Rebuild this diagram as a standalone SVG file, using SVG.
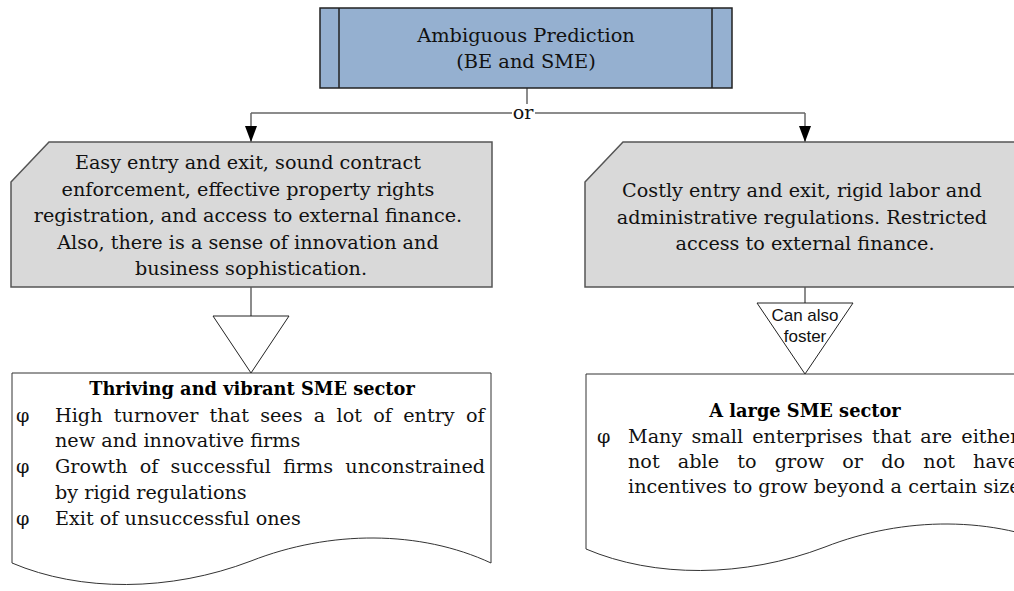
<svg xmlns="http://www.w3.org/2000/svg" width="1014" height="591" viewBox="0 0 1014 591">
<defs>
<style>
.serif{font-family:"DejaVu Serif","Liberation Serif",serif;fill:#111}
.t{font-size:19.2px}
.t19{font-size:19.4px}
.b{font-weight:bold;fill:#000;font-size:17.8px}
.sans{font-family:"Liberation Sans",Arial,sans-serif;font-size:17px;fill:#111}
.grey{fill:#d9d9d9;stroke:#555;stroke-width:1.5}
.doc{fill:#fff;stroke:#333;stroke-width:1}
.tri{fill:#fff;stroke:#222;stroke-width:1}
.conn{fill:none;stroke:#666;stroke-width:1.5}
</style>
<marker id="arr" markerUnits="userSpaceOnUse" markerWidth="16" markerHeight="12" viewBox="0 0 16 12" refX="16" refY="6" orient="auto">
<path d="M0,0 L16,6 L0,12 Z" fill="#000"/>
</marker>
</defs>
<rect width="1014" height="591" fill="#fff"/>

<g id="connectors">
<path class="conn" d="M527,88 V113"/>
<path class="conn" d="M251,113 H805"/>
<path class="conn" d="M251,113 V142" marker-end="url(#arr)"/>
<path class="conn" d="M805,113 V142" marker-end="url(#arr)"/>
<path class="conn" d="M251,287 V316"/>
<path class="conn" d="M805,287 V303"/>
<rect x="512" y="104" width="23" height="17" fill="#fff"/>
<text class="serif t" x="523" y="119" text-anchor="middle">or</text>
</g>

<g id="top">
<rect x="320" y="8" width="412" height="80" fill="#95b0d0" stroke="#222" stroke-width="1.5"/>
<line x1="339" y1="8" x2="339" y2="88" stroke="#222" stroke-width="1.5"/>
<line x1="712" y1="8" x2="712" y2="88" stroke="#222" stroke-width="1.5"/>
<text class="serif t19" x="526" y="42" text-anchor="middle">Ambiguous Prediction</text>
<text class="serif t19" x="526" y="68" text-anchor="middle">(BE and SME)</text>
</g>

<g id="left-cond">
<polygon class="grey" points="11,182 49,142 492,142 492,287 11,287"/>
<text class="serif t" text-anchor="middle">
<tspan x="251" y="169">Easy entry and exit, sound contract</tspan>
<tspan x="251" y="195.5">enforcement, effective property rights</tspan>
<tspan x="251" y="222">registration, and access to external finance.</tspan>
<tspan x="251" y="248.5">Also, there is a sense of innovation and</tspan>
<tspan x="251" y="275">business sophistication.</tspan>
</text>
</g>

<g id="right-cond">
<polygon class="grey" points="585,182 623,142 1066,142 1066,287 585,287"/>
<text class="serif t" text-anchor="middle">
<tspan x="805" y="197">Costly entry and exit, rigid labor and</tspan>
<tspan x="805" y="223.5">administrative regulations. Restricted</tspan>
<tspan x="805" y="250">access to external finance.</tspan>
</text>
</g>

<g id="left-tri">
<polygon class="tri" points="213,316 289,316 251,373"/>
</g>

<g id="right-tri">
<polygon class="tri" points="757,303 853,303 805,374"/>
<text class="sans" text-anchor="middle"><tspan x="805" y="321">Can also</tspan><tspan x="805" y="342">foster</tspan></text>
</g>

<g id="left-doc">
<path class="doc" d="M12,373 H491 V563 C420,530 330,530 251,561 C170,592 80,592 12,563 Z"/>
<text class="serif b" x="252" y="395" text-anchor="middle">Thriving and vibrant SME sector</text>
<g class="serif t">
<text x="16" y="421.5">φ</text>
<text x="55" y="421.5" word-spacing="5.2">High turnover that sees a lot of entry of</text>
<text x="55" y="447">new and innovative firms</text>
<text x="16" y="473">φ</text>
<text x="55" y="473" word-spacing="6.1">Growth of successful firms unconstrained</text>
<text x="55" y="498.5">by rigid regulations</text>
<text x="16" y="525">φ</text>
<text x="55" y="525">Exit of unsuccessful ones</text>
</g>
</g>

<g id="right-doc">
<path class="doc" d="M586,374 H1065 V549 C994,516 904,516 825,547 C744,578 654,578 586,549 Z"/>
<text class="serif b" x="805" y="417" text-anchor="middle">A large SME sector</text>
<g class="serif t">
<text x="597" y="443">φ</text>
<text x="628" y="443" word-spacing="3">Many small enterprises that are either</text>
<text x="628" y="468" word-spacing="12.1">not able to grow or do not have</text>
<text x="628" y="493">incentives to grow beyond a certain size.</text>
</g>
</g>
</svg>
